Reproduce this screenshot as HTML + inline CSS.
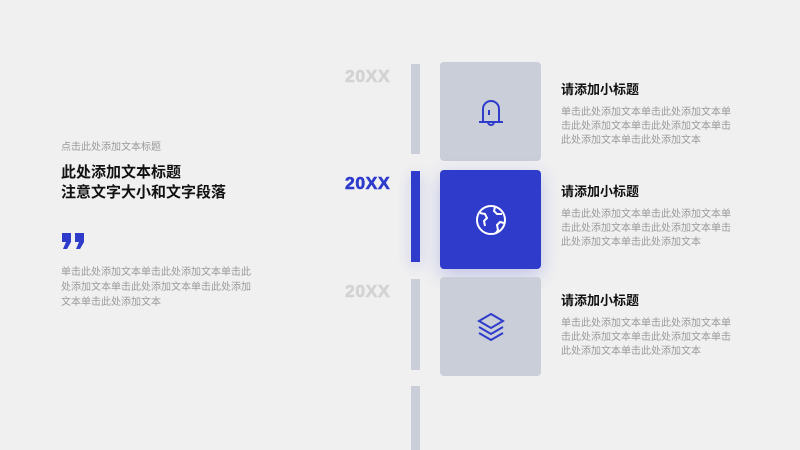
<!DOCTYPE html>
<html><head><meta charset="utf-8"><style>
body{margin:0;width:800px;height:450px;background:#f0f0f1;position:relative;overflow:hidden;font-family:"Liberation Sans","Noto Sans CJK SC",sans-serif}
.a{position:absolute;white-space:nowrap}
.bar{position:absolute;left:411px;width:9px;background:#c9ced8}
.box{position:absolute;left:440px;width:101px;height:99px;border-radius:4px;background:#c9ced8;display:flex;align-items:center;justify-content:center}
.yr{position:absolute;left:345px;font-weight:bold;font-size:17.5px;letter-spacing:0.6px;color:#d3d3d3;font-family:"Liberation Sans",sans-serif;-webkit-text-stroke:0.6px currentColor}
.t{position:absolute;left:561px;font-size:13px;font-weight:bold;color:#111}
.p{position:absolute;left:561px;font-size:10px;line-height:14px;color:#9a9a9a;white-space:nowrap}
</style></head><body>
<div class="a" style="left:61px;top:138px;font-size:10px;color:#999">点击此处添加文本标题</div>
<div class="a" style="left:61px;top:163px;font-size:15px;font-weight:bold;line-height:20px;color:#111">此处添加文本标题<br>注意文字大小和文字段落</div>
<svg class="a" style="left:61px;top:232px" width="25" height="18" viewBox="0 0 25 18"><path d="M1 1h9v9l-4 7H2l3-7H1z M14 1h9v9l-4 7h-4l3-7h-4z" fill="#2e3bcb"/></svg>
<div class="a" style="left:61px;top:265px;font-size:10px;line-height:15px;color:#9a9a9a">单击此处添加文本单击此处添加文本单击此<br>处添加文本单击此处添加文本单击此处添加<br>文本单击此处添加文本</div>

<div class="bar" style="top:64px;height:90px"></div>
<div class="bar" style="top:171px;height:91px;background:#2e3bcb;box-shadow:0 4px 14px rgba(46,59,203,0.2)"></div>
<div class="bar" style="top:279px;height:91px"></div>
<div class="bar" style="top:386px;height:64px"></div>

<div class="yr" style="top:66px">20XX</div>
<div class="yr" style="top:173px;color:#2e3bcb">20XX</div>
<div class="yr" style="top:281px">20XX</div>

<div class="box" style="top:62px"><svg width="34" height="34" viewBox="0 0 34 34" fill="none" stroke="#2e3bcb" stroke-width="2"><path d="M9 26V14a8 8 0 0 1 16 0v12"/><path d="M5 27h24"/><path d="M14 27a3 3 0 0 0 6 0"/><path d="M15 15v5"/></svg></div>
<div class="box" style="top:170px;background:#2e3bcb;box-shadow:0 6px 18px rgba(46,59,203,0.25)"><svg width="34" height="34" viewBox="0 0 34 34" fill="none" stroke="#fff" stroke-width="2"><circle cx="17" cy="17" r="14"/><path d="M6 10l5 1 2 4-3 3 1 5"/><path d="M21 4l-1 4 3 3 5 0"/><path d="M30 20l-4-1-3 3 1 5-2 3"/></svg></div>
<div class="box" style="top:277px"><svg width="34" height="34" viewBox="0 0 34 34" fill="none" stroke="#2e3bcb" stroke-width="2"><path d="M17 4l12 7-12 7-12-7z"/><path d="M5 17l12 7 12-7"/><path d="M5 23l12 7 12-7"/></svg></div>

<div class="t" style="top:79px">请添加小标题</div>
<div class="p" style="top:106px">单击此处添加文本单击此处添加文本单<br>击此处添加文本单击此处添加文本单击<br>此处添加文本单击此处添加文本</div>
<div class="t" style="top:181px">请添加小标题</div>
<div class="p" style="top:208px">单击此处添加文本单击此处添加文本单<br>击此处添加文本单击此处添加文本单击<br>此处添加文本单击此处添加文本</div>
<div class="t" style="top:290px">请添加小标题</div>
<div class="p" style="top:317px">单击此处添加文本单击此处添加文本单<br>击此处添加文本单击此处添加文本单击<br>此处添加文本单击此处添加文本</div>
</body></html>
